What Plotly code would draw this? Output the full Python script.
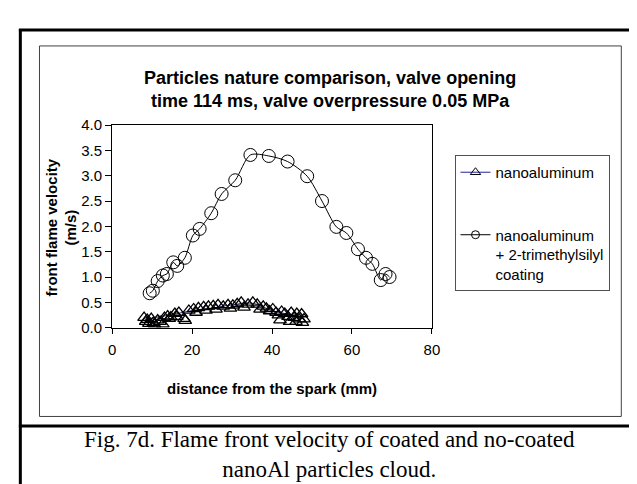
import plotly.graph_objects as go

W, H = 637, 484

# ---- data ----
coated_x = [9.4, 10.2, 11.4, 12.7, 13.7, 15.3, 16.3, 18.2, 20.2, 21.9, 24.8, 27.4, 30.8,
            34.6, 39.2, 43.9, 48.8, 52.5, 56.1, 58.6, 61.5, 63.5, 65.1, 67.2, 68.4, 69.4]
coated_y = [0.68, 0.73, 0.92, 1.03, 1.06, 1.29, 1.22, 1.38, 1.82, 1.95, 2.26, 2.64, 2.91,
            3.41, 3.39, 3.28, 2.99, 2.50, 1.99, 1.87, 1.55, 1.38, 1.26, 0.94, 1.06, 1.00]

nano_x = [8.0, 8.4, 8.8, 9.2, 9.8, 10.3, 10.6, 11.4, 12.0, 12.7, 13.1, 13.9, 14.3, 14.7,
          15.7, 16.2, 16.7, 18.0, 18.3, 19.2, 20.4, 21.0, 21.6, 22.9, 23.5, 24.1, 25.3,
          26.0, 26.5, 27.8, 29.0, 29.6, 30.2, 31.3, 32.3, 33.0, 34.0, 35.2, 36.3, 37.0,
          37.8, 38.6, 39.4, 40.2, 41.0, 41.6, 42.0, 42.4, 43.2, 44.0, 44.4, 44.8, 45.5,
          46.0, 46.2, 46.8, 47.4, 47.6, 48.0]
nano_y = [0.20, 0.12, 0.16, 0.08, 0.18, 0.10, 0.07, 0.15, 0.12, 0.07, 0.20, 0.23, 0.18, 0.21,
          0.28, 0.22, 0.30, 0.18, 0.14, 0.34, 0.37, 0.30, 0.39, 0.41, 0.34, 0.42, 0.43,
          0.36, 0.45, 0.42, 0.45, 0.38, 0.44, 0.47, 0.50, 0.40, 0.46, 0.50, 0.46, 0.36,
          0.42, 0.38, 0.33, 0.37, 0.30, 0.25, 0.15, 0.32, 0.28, 0.22, 0.12, 0.30, 0.20,
          0.12, 0.28, 0.17, 0.27, 0.10, 0.17]

nano_trend_x = [8.2, 10.0, 12.0, 14.6, 17.0, 19.5, 22.0, 25.3, 28.0, 31.0, 33.5, 36.3,
                38.4, 40.4, 42.5, 45.0, 47.7]
nano_trend_y = [0.17, 0.19, 0.22, 0.25, 0.29, 0.33, 0.36, 0.39, 0.43, 0.46, 0.49, 0.46,
                0.39, 0.33, 0.29, 0.24, 0.18]

title_lines = ["Particles nature comparison, valve opening",
               "time 114 ms, valve overpressure 0.05 MPa"]
caption_lines = ["Fig. 7d. Flame front velocity of coated and no-coated",
                 "nanoAl particles cloud."]
x_title = "distance from the spark (mm)"
y_title = "front flame velocity<br>(m/s)"
name_nano = "nanoaluminum"
name_coated = "nanoaluminum<br>+ 2-trimethylsilyl<br>coating"

SANS = "Liberation Sans, Arial, sans-serif"
SERIF = "Liberation Serif, Times New Roman, serif"
BLUE = "#2020a0"


def px(x):
    return x / W


def py(y):
    return 1 - y / H


fig = go.Figure()

fig.add_trace(go.Scatter(x=nano_trend_x, y=nano_trend_y, mode="lines",
                         line=dict(color=BLUE, width=1, shape="spline"),
                         showlegend=False, hoverinfo="skip"))
fig.add_trace(go.Scatter(x=nano_x, y=nano_y, mode="markers",
                         marker=dict(symbol="triangle-up-open", size=11, color="black",
                                     line=dict(width=1.3, color="black")),
                         showlegend=False))
fig.add_trace(go.Scatter(x=coated_x, y=coated_y, mode="lines+markers",
                         line=dict(color="black", width=1, shape="spline", smoothing=0.8),
                         marker=dict(symbol="circle-open", size=13, color="black",
                                     line=dict(width=1, color="black")),
                         showlegend=False))

# legend-only entries
fig.add_trace(go.Scatter(x=[None], y=[None], mode="lines+markers", name=name_nano,
                         legendgroup="a",
                         line=dict(color=BLUE, width=1),
                         marker=dict(symbol="triangle-up-open", size=9, color="black",
                                     line=dict(width=1, color="black"))))
fig.add_trace(go.Scatter(x=[None], y=[None], mode="lines+markers", name=name_coated,
                         legendgroup="b",
                         line=dict(color="black", width=1),
                         marker=dict(symbol="circle-open", size=8, color="black",
                                     line=dict(width=1, color="black"))))

x0p, x1p = 102, 428
y0p, y1p = 322, 112

fig.update_layout(
    width=W, height=H,
    margin=dict(l=0, r=0, t=0, b=0),
    paper_bgcolor="white", plot_bgcolor="white",
    font=dict(family=SANS, size=15, color="black"),
    xaxis=dict(domain=[px(x0p), px(x1p)], range=[0, 80], dtick=20, tick0=0,
               showline=True, linecolor="black", linewidth=1, mirror=True,
               ticks="outside", ticklen=5, tickcolor="black",
               ticklabelstandoff=3,
               showgrid=False, zeroline=False,
               tickfont=dict(family=SANS, size=15)),
    yaxis=dict(domain=[py(y0p), py(y1p)], range=[0, 4], dtick=0.5, tick0=0,
               tickformat=".1f",
               showline=True, linecolor="black", linewidth=1, mirror=True,
               ticks="outside", ticklen=6, tickcolor="black",
               showgrid=False, zeroline=False,
               tickfont=dict(family=SANS, size=15)),
    legend=dict(x=px(451), y=py(143), xanchor="left", yanchor="top",
                bordercolor="#505050", borderwidth=1, bgcolor="white",
                font=dict(family=SANS, size=15),
                valign="top", tracegroupgap=40, traceorder="grouped",
                itemwidth=30),
    showlegend=True,
)

annotations = [
    dict(text="<b>%s<br>%s</b>" % (title_lines[0], title_lines[1]), x=px(324), y=py(75),
         font=dict(family=SANS, size=18)),
    dict(text="<b>%s</b>" % x_title, x=px(265), y=py(385),
         font=dict(family=SANS, size=15)),
    dict(text="<b>%s</b>" % y_title, x=px(50), y=py(218), textangle=-90,
         font=dict(family=SANS, size=15)),
    dict(text="%s<br>%s" % (caption_lines[0], caption_lines[1]), x=px(324), y=py(453),
         font=dict(family=SERIF, size=23)),
]
for a in annotations:
    fig.add_annotation(xref="paper", yref="paper", showarrow=False,
                       xanchor="center", yanchor="middle", **a)

shapes = [
    # inner chart frame
    dict(type="rect", x0=px(28), x1=px(621), y0=py(414), y1=py(30),
         line=dict(color="#404040", width=1)),
    # outer thick frame
    dict(type="line", x0=px(8.5), x1=px(8.5), y0=py(13), y1=py(490),
         line=dict(color="black", width=3)),
    dict(type="line", x0=px(7), x1=px(640), y0=py(13.5), y1=py(13.5),
         line=dict(color="black", width=3)),
    dict(type="line", x0=px(7), x1=px(640), y0=py(424), y1=py(424),
         line=dict(color="black", width=3)),
    dict(type="line", x0=px(636), x1=px(636), y0=py(13), y1=py(490),
         line=dict(color="black", width=2)),
]
for s in shapes:
    fig.add_shape(xref="paper", yref="paper", layer="below", **s)

fig.write_html("out.html")
